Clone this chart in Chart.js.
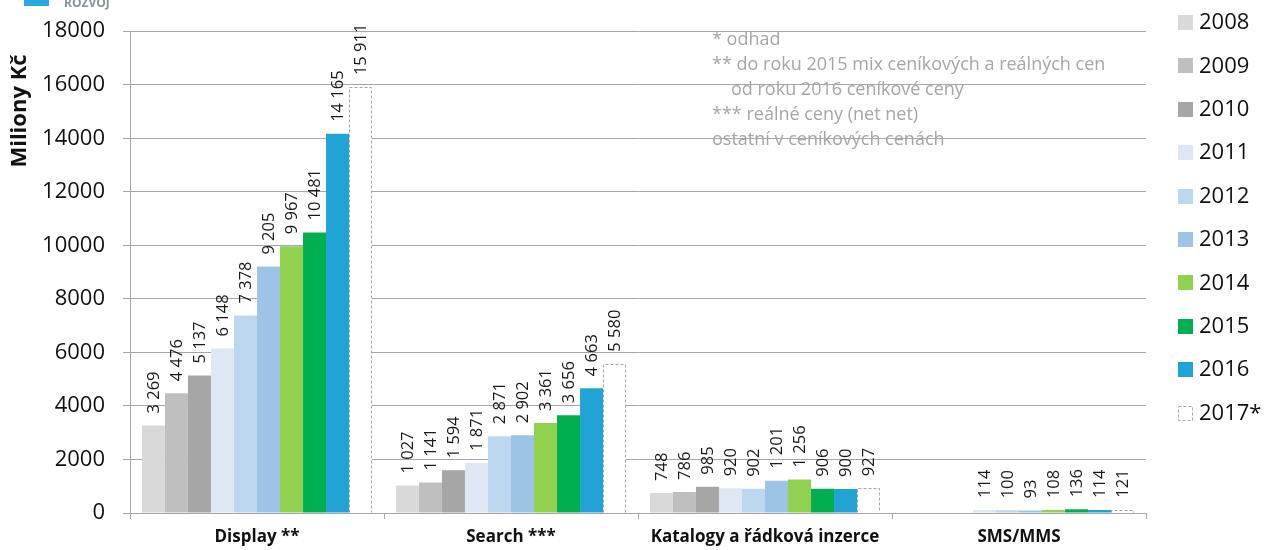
<!DOCTYPE html>
<html>
<head>
<meta charset="utf-8">
<script src="https://cdn.jsdelivr.net/npm/chart.js@4.4.0/dist/chart.umd.min.js"></script>
<style>
  html, body { margin: 0; padding: 0; background: #fff; }
  #wrap { width: 1266px; height: 550px; position: relative; }
</style>
</head>
<body>
<div id="wrap"><canvas id="c" width="1266" height="550"></canvas></div>
<script>
// Advertising spend by channel, in millions of CZK
const categories = ['Display **', 'Search ***', 'Katalogy a řádková inzerce', 'SMS/MMS'];
const years = ['2008', '2009', '2010', '2011', '2012', '2013', '2014', '2015', '2016', '2017*'];

const v2008 = [3269, 1027, 748, null];
const v2009 = [4476, 1141, 786, null];
const v2010 = [5137, 1594, 985, null];
const v2011 = [6148, 1871, 920, 114];
const v2012 = [7378, 2871, 902, 100];
const v2013 = [9205, 2902, 1201, 93];
const v2014 = [9967, 3361, 1256, 108];
const v2015 = [10481, 3656, 906, 136];
const v2016 = [14165, 4663, 900, 114];
const v2017 = [15911, 5580, 927, 121];

const yMin = 0;
const yMax = 18000;
const yStep = 2000;

const notes = [
  '* odhad',
  '** do roku 2015 mix ceníkových a reálných cen',
  '   od roku 2016 ceníkové ceny',
  '*** reálné ceny (net net)',
  'ostatní v ceníkových cenách'
];
const yTitle = 'Miliony Kč';

// styling
const seriesValues = [v2008, v2009, v2010, v2011, v2012, v2013, v2014, v2015, v2016, v2017];
const seriesColors = ['#d9d9d9', '#bfbfbf', '#a6a6a6', '#dde8f4', '#bdd7ee', '#9dc3e6', '#92d050', '#00b050', '#22a3d5', '#ffffff'];
const estimateIndex = 9;
const FONT = '"Open Sans", "DejaVu Sans", sans-serif';
const GRID = '#a6a6a6';

function fmt(v) {
  return String(v).replace(/\B(?=(\d{3})+(?!\d))/g, ' ');
}

const datasets = seriesValues.map((vals, i) => ({
  label: years[i],
  data: vals,
  backgroundColor: seriesColors[i],
  borderWidth: 0,
  categoryPercentage: 0.906,
  barPercentage: 1.0
}));

// value labels, dashed outline of the estimate bars, legend, notes, axis title
const decorations = {
  id: 'decorations',
  afterDatasetsDraw(chart) {
    const ctx = chart.ctx;
    // dashed outline around the estimate bars
    const em = chart.getDatasetMeta(estimateIndex);
    ctx.save();
    ctx.strokeStyle = GRID;
    ctx.lineWidth = 1;
    ctx.setLineDash([3, 2]);
    em.data.forEach((bar, j) => {
      if (chart.data.datasets[estimateIndex].data[j] == null) return;
      const l = Math.round(bar.x - bar.width / 2) + 0.5;
      const r = Math.round(bar.x + bar.width / 2) - 0.5;
      const t = Math.round(bar.y) + 0.5;
      const b = bar.base;
      ctx.beginPath();
      ctx.moveTo(l, b);
      ctx.lineTo(l, t);
      ctx.lineTo(r, t);
      ctx.lineTo(r, b);
      ctx.stroke();
    });
    ctx.restore();

    // rotated value labels above each bar
    ctx.save();
    ctx.fillStyle = '#1a1a1a';
    ctx.font = '16.5px ' + FONT;
    ctx.textAlign = 'left';
    ctx.textBaseline = 'middle';
    chart.data.datasets.forEach((ds, i) => {
      const meta = chart.getDatasetMeta(i);
      meta.data.forEach((bar, j) => {
        const v = ds.data[j];
        if (v == null) return;
        ctx.save();
        ctx.translate(bar.x + 1, bar.y - 12);
        ctx.rotate(-Math.PI / 2);
        ctx.fillText(fmt(v), 0, 0);
        ctx.restore();
      });
    });
    ctx.restore();
  },
  afterDraw(chart) {
    const ctx = chart.ctx;
    ctx.save();

    // legend
    ctx.font = '22px ' + FONT;
    ctx.textBaseline = 'middle';
    ctx.textAlign = 'left';
    chart.data.datasets.forEach((ds, i) => {
      const cy = 22 + i * 43.4;
      if (i === estimateIndex) {
        ctx.fillStyle = '#fff';
        ctx.fillRect(1178, cy - 7, 15, 15);
        ctx.strokeStyle = GRID;
        ctx.setLineDash([3, 2]);
        ctx.strokeRect(1178.5, Math.round(cy - 7) + 0.5, 14, 14);
        ctx.setLineDash([]);
      } else {
        ctx.fillStyle = ds.backgroundColor;
        ctx.fillRect(1178, Math.round(cy - 7), 15, 15);
      }
      ctx.fillStyle = '#111';
      ctx.fillText(ds.label, 1199, cy + 1);
    });

    // notes
    ctx.font = '18px ' + FONT;
    ctx.fillStyle = '#a6a6a6';
    notes.forEach((line, i) => {
      const indent = line.startsWith('   ') ? 19 : 0;
      ctx.fillText(line.trim(), 712 + indent, 40 + i * 25);
    });

    // y axis title
    ctx.save();
    ctx.translate(20, 111);
    ctx.rotate(-Math.PI / 2);
    ctx.textAlign = 'center';
    ctx.font = 'bold 22px ' + FONT;
    ctx.fillStyle = '#111';
    ctx.fillText(yTitle, 0, 0);
    ctx.restore();

    // header badge
    ctx.fillStyle = '#29a8e0';
    ctx.fillRect(24, 0, 25, 6);
    ctx.font = 'bold 12px ' + FONT;
    ctx.fillStyle = '#8592a0';
    ctx.textBaseline = 'alphabetic';
    ctx.fillText('ROZVOJ', 64, 7);

    ctx.restore();
  }
};

new Chart(document.getElementById('c'), {
  type: 'bar',
  data: { labels: categories, datasets },
  plugins: [decorations],
  options: {
    responsive: false,
    animation: false,
    layout: { padding: { top: 30, right: 120, bottom: 0, left: 0 } },
    plugins: {
      legend: { display: false },
      tooltip: { enabled: false }
    },
    scales: {
      x: {
        grid: { display: true, offset: true, drawOnChartArea: false, tickLength: 6, color: GRID },
        border: { display: true, color: GRID },
        ticks: {
          color: '#111',
          font: { family: FONT, size: 17, weight: 'bold' },
          padding: 8,
          maxRotation: 0,
          autoSkip: false
        },
        afterFit(s) { s.height = 37; }
      },
      y: {
        min: yMin,
        max: yMax,
        ticks: {
          stepSize: yStep,
          color: '#111',
          font: { family: FONT, size: 22 },
          padding: 18,
          callback: v => String(v)
        },
        grid: { color: GRID, lineWidth: 1, tickLength: 7 },
        border: { display: true, color: GRID },
        afterFit(s) { s.width = 130; }
      }
    }
  }
});
</script>
</body>
</html>
